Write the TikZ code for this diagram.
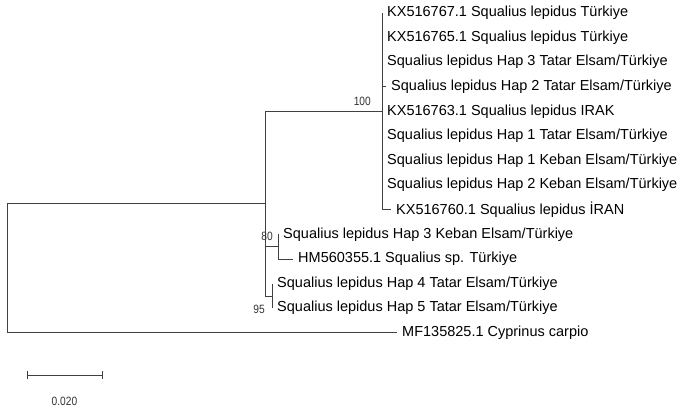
\documentclass[tikz,border=0pt]{standalone}
\usepackage{fontspec}
\setmainfont{Liberation Sans}
\newfontfamily\narrowfont[FakeStretch=0.85]{Liberation Sans}
\usetikzlibrary{positioning}

\begin{document}
\begin{tikzpicture}[x=1pt, y=-1pt,
		br/.style={draw=black!75, line width=0.8pt},
		leaf/.style={anchor=west, inner sep=0pt, font=\fontsize{14.5}{16}\selectfont},
		boot/.style={inner sep=0pt, font=\narrowfont\fontsize{12}{13}\selectfont, text=black!80}]
	\useasboundingbox (0,0) rectangle (684,411);
	% inner nodes
	\coordinate (root) at (7,268.2);
	\coordinate (a) at (265,203.6);
	\coordinate (b) at (382,111.4);
	\coordinate (c) at (278,246.7);
	\coordinate (d) at (272,295.9);
	% leaf ends
	\coordinate (l1) at (382,13);
	\coordinate (l2) at (382,37.6);
	\coordinate (l3) at (382,62.2);
	\coordinate (l4) at (386,86.8);
	\coordinate (l5) at (382,111.4);
	\coordinate (l6) at (382,136);
	\coordinate (l7) at (382,160.6);
	\coordinate (l8) at (382,185.2);
	\coordinate (l9) at (391,209.8);
	\coordinate (l10) at (278,234.4);
	\coordinate (l11) at (293,259);
	\coordinate (l12) at (272,283.6);
	\coordinate (l13) at (272,308.2);
	\coordinate (l14) at (397,332.8);
	% branches
	\draw[br] (root) |- (a);
	\draw[br] (root) |- (l14);
	\draw[br] (a) |- (b);
	\draw[br] (a) |- (c);
	\draw[br] (a) |- (d);
	\draw[br] (b) |- (l1);
	\draw[br] (b) |- (l4);
	\draw[br] (b) |- (l9);
	\draw[br] (c) |- (l10);
	\draw[br] (c) |- (l11);
	\draw[br] (d) |- (l12);
	\draw[br] (d) |- (l13);
	% taxa
	\node[leaf, right=5pt of l1] (t1) {KX516767.1 Squalius lepidus Türkiye};
	\node[leaf, right=5pt of l2] (t2) {KX516765.1 Squalius lepidus Türkiye};
	\node[leaf, right=5pt of l3] (t3) {Squalius lepidus Hap 3 Tatar Elsam/Türkiye};
	\node[leaf, right=5pt of l4] (t4) {Squalius lepidus Hap 2 Tatar Elsam/Türkiye};
	\node[leaf, right=5pt of l5] (t5) {KX516763.1 Squalius lepidus IRAK};
	\node[leaf, right=5pt of l6] (t6) {Squalius lepidus Hap 1 Tatar Elsam/Türkiye};
	\node[leaf, right=5pt of l7] (t7) {Squalius lepidus Hap 1 Keban Elsam/Türkiye};
	\node[leaf, right=5pt of l8] (t8) {Squalius lepidus Hap 2 Keban Elsam/Türkiye};
	\node[leaf, right=5pt of l9] (t9) {KX516760.1 Squalius lepidus İRAN};
	\node[leaf, right=5pt of l10] (t10) {Squalius lepidus Hap 3 Keban Elsam/Türkiye};
	\node[leaf, right=5pt of l11] (t11) {HM560355.1 Squalius sp. Türkiye};
	\node[leaf, right=5pt of l12] (t12) {Squalius lepidus Hap 4 Tatar Elsam/Türkiye};
	\node[leaf, right=5pt of l13] (t13) {Squalius lepidus Hap 5 Tatar Elsam/Türkiye};
	\node[leaf, right=5pt of l14] (t14) {MF135825.1 Cyprinus carpio};
	% bootstrap values
	\node[boot, above left=6pt and 11pt of b] (s100) {100};
	\node[boot, above left=6.3pt and 5pt of c] (s80) {80};
	\node[boot, below left=8.7pt and 7pt of d] (s95) {95};
	% scale bar
	\coordinate (sb1) at (27,375);
	\coordinate (sb2) at (102,375);
	\coordinate (sbm) at (64.5,375);
	\draw[br] (sb1) -- (sb2);
	\draw[br] ([yshift=4pt]sb1) -- ([yshift=-4pt]sb1);
	\draw[br] ([yshift=4pt]sb2) -- ([yshift=-4pt]sb2);
	\node[boot, below=21.5pt of sbm] (scale) {0.020};
\end{tikzpicture}
\end{document}
